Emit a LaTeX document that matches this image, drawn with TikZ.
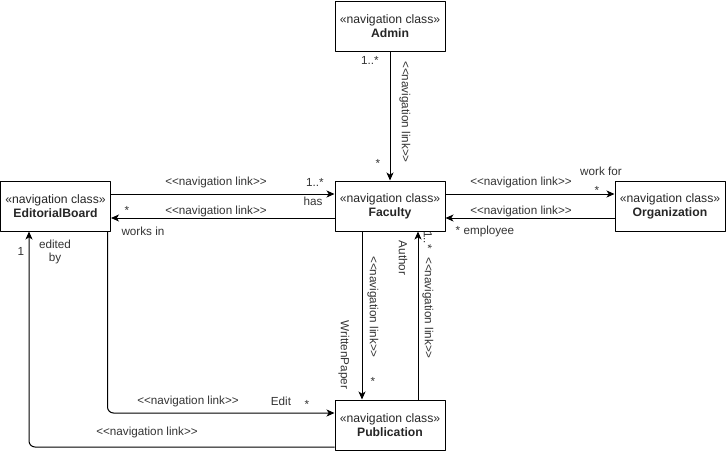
\documentclass[tikz,border=0pt]{standalone}
\usepackage{fontspec}
\setmainfont{Liberation Sans}
\usetikzlibrary{arrows.meta}

\begin{document}
\begin{tikzpicture}[x=1pt,y=-1pt,font=\fontsize{11.7}{13.5}\selectfont,line join=round,
  navclass/.style={draw,line width=1pt,minimum width=110pt,minimum height=50pt,align=center,inner sep=0pt,text=black!85,font=\fontsize{12.2}{14}\selectfont},
  navlink/.style={draw,line width=1pt,-{Stealth[length=8pt,width=7pt,inset=2.2pt]},rounded corners=6pt},
  lbl/.style={text=black!80,inner sep=0pt,anchor=center},
  vlbl/.style={lbl,rotate=-90}]
\useasboundingbox (0,0) rectangle (726,456);
% classes
\node[navclass] (admin) at (390,26) {«navigation class»\\\textbf{Admin}};
\node[navclass] (faculty) at (390,206) {«navigation class»\\\textbf{Faculty}};
\node[navclass] (pub) at (390,425) {«navigation class»\\\textbf{Publication}};
\node[navclass] (board) at (55.5,206) {«navigation class»\\\textbf{EditorialBoard}};
\node[navclass] (org) at (670,206) {«navigation class»\\\textbf{Organization}};
% links
\draw[navlink] (admin) -- (faculty);
\draw[navlink] ([yshift=12pt]board.east) -- ([yshift=12pt]faculty.west);
\draw[navlink] ([yshift=-12pt]faculty.west) -- ([yshift=-12pt]board.east);
\draw[navlink] ([yshift=12pt]faculty.east) -- ([yshift=12pt]org.west);
\draw[navlink] ([yshift=-12pt]org.west) -- ([yshift=-12pt]faculty.east);
\draw[navlink] ([xshift=-28pt]faculty.south) -- ([xshift=-28pt]pub.north);
\draw[navlink] ([xshift=28pt]pub.north) -- ([xshift=28pt]faculty.south);
\draw[navlink] ([xshift=52pt]board.south) |- ([yshift=12pt]pub.west);
\draw[navlink] ([yshift=-22pt]pub.west) -| ([xshift=-26.5pt]board.south);
% admin -- faculty
\node[lbl] (admMany) at (370,60) {1..*};
\node[lbl] (admStar) at (378,163) {*};
\node[vlbl] (admLink) at (405,112) {<{}<navigation link>{}>};
% board -- faculty
\node[lbl] (hasLink) at (216,182) {<{}<navigation link>{}>};
\node[lbl] (hasMany) at (315,182) {1..*};
\node[lbl] (hasRole) at (313,201) {has};
\node[lbl] (worksLink) at (216,211) {<{}<navigation link>{}>};
\node[lbl] (worksStar) at (127,210) {*};
\node[lbl] (worksRole) at (143,231) {works in};
% faculty -- organization
\node[lbl] (forLink) at (521,182) {<{}<navigation link>{}>};
\node[lbl] (forStar) at (597,190) {*};
\node[lbl] (forRole) at (601,171) {work for};
\node[lbl] (empLink) at (521,211) {<{}<navigation link>{}>};
\node[lbl] (empRole) at (485,231) {* employee};
% faculty -- publication
\node[vlbl] (paperLink) at (373,307) {<{}<navigation link>{}>};
\node[vlbl] (paperRole) at (344,355) {WrittenPaper};
\node[lbl] (paperStar) at (373,381) {*};
\node[vlbl] (authMany) at (428,240) {1..*};
\node[vlbl] (authLink) at (428,308) {<{}<navigation link>{}>};
\node[vlbl] (authRole) at (403,258) {Author};
% board -- publication
\node[lbl] (editLink) at (188,401) {<{}<navigation link>{}>};
\node[lbl] (editRole) at (281,401) {Edit};
\node[lbl] (editStar) at (307,404) {*};
\node[lbl] (edByLink) at (147,432) {<{}<navigation link>{}>};
\node[lbl] (edByOne) at (21,251) {1};
\node[lbl,align=center] (edByRole) at (55,252) {edited\\by};
\end{tikzpicture}
\end{document}
